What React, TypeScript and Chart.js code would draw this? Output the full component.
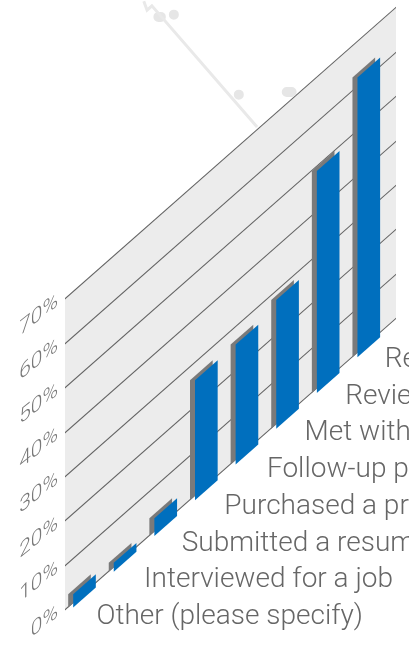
import React, { useEffect, useRef } from "react";
import { Chart, registerables } from "chart.js";

Chart.register(...registerables);

// Only the part of each label that is visible in the reference can be read.
const categories = [
  "Other (please specify)",
  "Interviewed for a job",
  "Submitted a resum",
  "Purchased a pr",
  "Follow-up p",
  "Met with",
  "Revie",
  "Re",
];
const positions = [1, 2, 3, 4, 5, 6, 7, 8];
const values = [3, 2, 4, 27, 27, 29, 50, 63];
const yTicks = [0, 10, 20, 30, 40, 50, 60, 70];

// faint background decoration, in the chart's own axis units
const ghostLineX = [2.46, 2.54, 2.66, 5.25];
const ghostLineY = [137, 135, 136, 108.7];
const ghostDotX = [3.2, 3.201, null, 2.82, 2.88, null, 4.8, 4.801, null, 5.98, 6.1];
const ghostDotY = [134, 134, null, 133.5, 133.5, null, 116, 116, null, 116.6, 116.6];

const SHEAR = -0.88;
const TEXT = "#666666";
const FONT = "Roboto, 'Liberation Sans', sans-serif";
const LABEL_NUDGE = [-2, 5, 2, 4, 6, 3, 3, 2];

const shearPlugin = {
  id: "shear",
  beforeDraw(chart: any) {
    const { ctx, chartArea: a } = chart;
    ctx.save();
    ctx.setTransform(1, SHEAR, 0, 1, 0, -SHEAR * a.left);
    ctx.fillStyle = "#ececec";
    ctx.fillRect(a.left, a.top, a.right - a.left, a.bottom - a.top);
  },
  beforeDatasetDraw(chart: any, args: any) {
    const { ctx, chartArea: a } = chart;
    ctx.save();
    if (args.index === 2 || args.index === 3) {
      ctx.setTransform(1, 0, 0, 1, 0, 0);
    } else {
      const dx = args.index === 0 ? -5 : 0;
      ctx.setTransform(1, SHEAR, 0, 1, dx, 5 - SHEAR * a.left);
    }
  },
  afterDatasetDraw(chart: any) {
    chart.ctx.restore();
  },
  afterDatasetsDraw(chart: any) {
    chart.ctx.restore();
    const { ctx, scales, chartArea: a } = chart;
    ctx.save();
    ctx.fillStyle = TEXT;
    ctx.font = `300 28px ${FONT}`;
    ctx.textAlign = "left";
    ctx.textBaseline = "middle";
    const first = scales.x.getPixelForValue(positions[0]);
    categories.forEach((label, i) => {
      const px = scales.x.getPixelForValue(positions[i]);
      ctx.fillText(label, px + 14 + LABEL_NUDGE[i], 617 - (px - first) * 0.904);
    });
    ctx.font = `300 21px ${FONT}`;
    ctx.fillStyle = "#787878";
    ctx.textAlign = "right";
    yTicks.forEach((t) => {
      ctx.save();
      ctx.translate(a.left - 7, scales.y.getPixelForValue(t) + 1);
      ctx.transform(1, SHEAR * 0.9, 0, 1, 0, 0);
      ctx.fillText(`${t}%`, 0, 0);
      ctx.restore();
    });
    ctx.restore();
  },
};

export default function App() {
  const ref = useRef<HTMLCanvasElement>(null);
  useEffect(() => {
    const barData = positions.map((x, i) => ({ x, y: values[i] }));
    const chart = new Chart(ref.current!, {
      type: "bar",
      data: {
        datasets: [
          { data: barData, backgroundColor: "#7a7a7a", barThickness: 22, grouped: false, clip: false, order: 2 } as any,
          { data: barData, backgroundColor: "#006fbe", barThickness: 22, grouped: false, clip: false, order: 1 } as any,
          {
            type: "line",
            data: ghostLineX.map((x, i) => ({ x, y: ghostLineY[i] })),
            borderColor: "#e9e9e9",
            borderWidth: 3,
            pointRadius: 0,
            clip: false,
            order: 3,
          } as any,
          {
            type: "line",
            data: ghostDotX.map((x, i) => ({ x: x ?? i, y: ghostDotY[i] })),
            borderColor: "#e6e6e6",
            borderWidth: 10,
            borderCapStyle: "round",
            pointRadius: 0,
            spanGaps: false,
            clip: false,
            order: 4,
          } as any,
        ],
      },
      options: {
        animation: false,
        responsive: false,
        devicePixelRatio: 1,
        layout: { padding: { left: 65, right: 13, top: 299, bottom: 35 } },
        plugins: { legend: { display: false }, tooltip: { enabled: false } },
        scales: {
          x: { type: "linear", display: false, offset: false, min: 0.52, max: 8.67 },
          y: {
            min: 0,
            max: 70,
            ticks: { display: false, stepSize: 10 },
            border: { display: false },
            grid: { color: "#626262", lineWidth: 1.4, drawTicks: false },
          },
        },
      } as any,
      plugins: [shearPlugin],
    });
    return () => chart.destroy();
  }, []);
  return (
    <canvas
      ref={ref}
      width={409}
      height={645}
      style={{ position: "absolute", left: 0, top: 0, width: 409, height: 645, filter: "blur(0.6px)" }}
    />
  );
}
